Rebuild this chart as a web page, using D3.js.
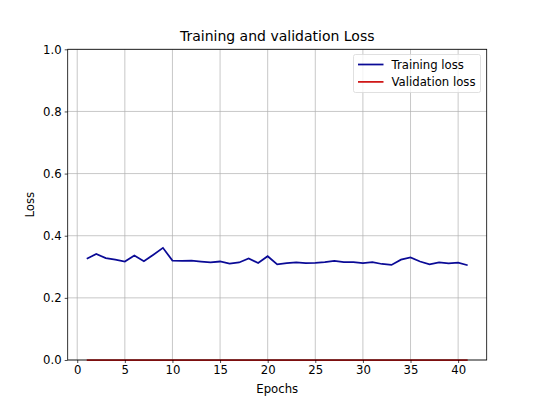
<!DOCTYPE html>
<html>
<head>
<meta charset="utf-8">
<script src="https://cdn.jsdelivr.net/npm/d3@7"></script>
<style>
  body { margin: 0; background: #fff; }
  svg text { font-family: "DejaVu Sans", sans-serif; fill: #000; }
</style>
</head>
<body>
<div id="chart"></div>
<script>
const epochs = d3.range(1, 42);
const trainLoss = [0.326, 0.341, 0.328, 0.323, 0.317, 0.336, 0.318, 0.339, 0.361, 0.320,
                   0.319, 0.320, 0.317, 0.314, 0.317, 0.310, 0.314, 0.327, 0.312, 0.334,
                   0.308, 0.312, 0.314, 0.312, 0.313, 0.315, 0.319, 0.315, 0.315, 0.312,
                   0.315, 0.309, 0.306, 0.323, 0.330, 0.317, 0.308, 0.314, 0.311, 0.313,
                   0.305];
const valLoss = [0, 0, 0, 0, 0, 0, 0, 0, 0, 0,
                 0, 0, 0, 0, 0, 0, 0, 0, 0, 0,
                 0, 0, 0, 0, 0, 0, 0, 0, 0, 0,
                 0, 0, 0, 0, 0, 0, 0, 0, 0, 0,
                 0];
const xTicks = [0, 5, 10, 15, 20, 25, 30, 35, 40];
const yTicks = [0.0, 0.2, 0.4, 0.6, 0.8, 1.0];
const seriesNames = ["Training loss", "Validation loss"];
const seriesColors = ["#0a0a96", "#d01818"];

const W = 540, H = 405;
const margin = { top: 49.3, left: 67.7, bottom: 45, right: 53.3 };
const width  = W - margin.left - margin.right;
const height = H - margin.top - margin.bottom;

const svg = d3.select("#chart")
              .append("svg")
              .attr("width", W)
              .attr("height", H);

const g = svg.append("g")
             .attr("transform", `translate(${margin.left}, ${margin.top})`);

const xScale = d3.scaleLinear().domain([-1, 43]).range([0, width]);
const yScale = d3.scaleLinear().domain([0, 1]).range([height, 0]);

// grid
g.append("g")
 .selectAll("line")
 .data(xTicks)
 .join("line")
 .attr("x1", d => xScale(d)).attr("x2", d => xScale(d))
 .attr("y1", 0).attr("y2", height)
 .attr("stroke", "#b0b0b0").attr("stroke-width", 0.7);

g.append("g")
 .selectAll("line")
 .data(yTicks)
 .join("line")
 .attr("x1", 0).attr("x2", width)
 .attr("y1", d => yScale(d)).attr("y2", d => yScale(d))
 .attr("stroke", "#b0b0b0").attr("stroke-width", 0.7);

// lines
const line = d3.line()
               .x((d, i) => xScale(epochs[i]))
               .y(d => yScale(d));

[trainLoss, valLoss].forEach((s, k) => {
  g.append("path")
   .datum(s)
   .attr("d", line)
   .attr("fill", "none")
   .attr("stroke", seriesColors[k])
   .attr("stroke-width", 1.75);
});

// axes
const xAxis = d3.axisBottom(xScale).tickValues(xTicks).tickSize(3).tickPadding(3);
const yAxis = d3.axisLeft(yScale).tickValues(yTicks).tickSize(3).tickPadding(3)
                .tickFormat(d3.format(".1f"));

const gx = g.append("g")
            .attr("transform", `translate(0, ${height})`)
            .call(xAxis);
const gy = g.append("g").call(yAxis);

[gx, gy].forEach(a => {
  a.select(".domain").remove();
  a.selectAll("line").attr("stroke", "#000").attr("stroke-width", 0.7);
  a.selectAll("text").style("font-size", "11.7px").attr("fill", "#000");
});

// frame
g.append("rect")
 .attr("width", width).attr("height", height)
 .attr("fill", "none").attr("stroke", "#000").attr("stroke-width", 0.8);

// title and labels
svg.append("text")
   .attr("x", margin.left + width / 2).attr("y", 41)
   .attr("text-anchor", "middle")
   .style("font-size", "14px")
   .text("Training and validation Loss");

svg.append("text")
   .attr("x", margin.left + width / 2).attr("y", 393)
   .attr("text-anchor", "middle")
   .style("font-size", "11.7px")
   .text("Epochs");

svg.append("text")
   .attr("transform", `translate(34, ${margin.top + height / 2}) rotate(-90)`)
   .attr("text-anchor", "middle")
   .style("font-size", "11.7px")
   .text("Loss");

// legend
const legend = svg.append("g").attr("transform", "translate(353.5, 54.5)");
legend.append("rect")
      .attr("width", 127).attr("height", 38).attr("rx", 2)
      .attr("fill", "#fff").attr("fill-opacity", 0.8)
      .attr("stroke", "#d8d8d8").attr("stroke-width", 0.8);

seriesNames.forEach((name, i) => {
  const y = 10 + i * 17.4;
  legend.append("line")
        .attr("x1", 4.5).attr("x2", 30).attr("y1", y).attr("y2", y)
        .attr("stroke", seriesColors[i]).attr("stroke-width", 1.75);
  legend.append("text")
        .attr("x", 38).attr("y", y + 4.2)
        .style("font-size", "11.7px")
        .text(name);
});
</script>
</body>
</html>
